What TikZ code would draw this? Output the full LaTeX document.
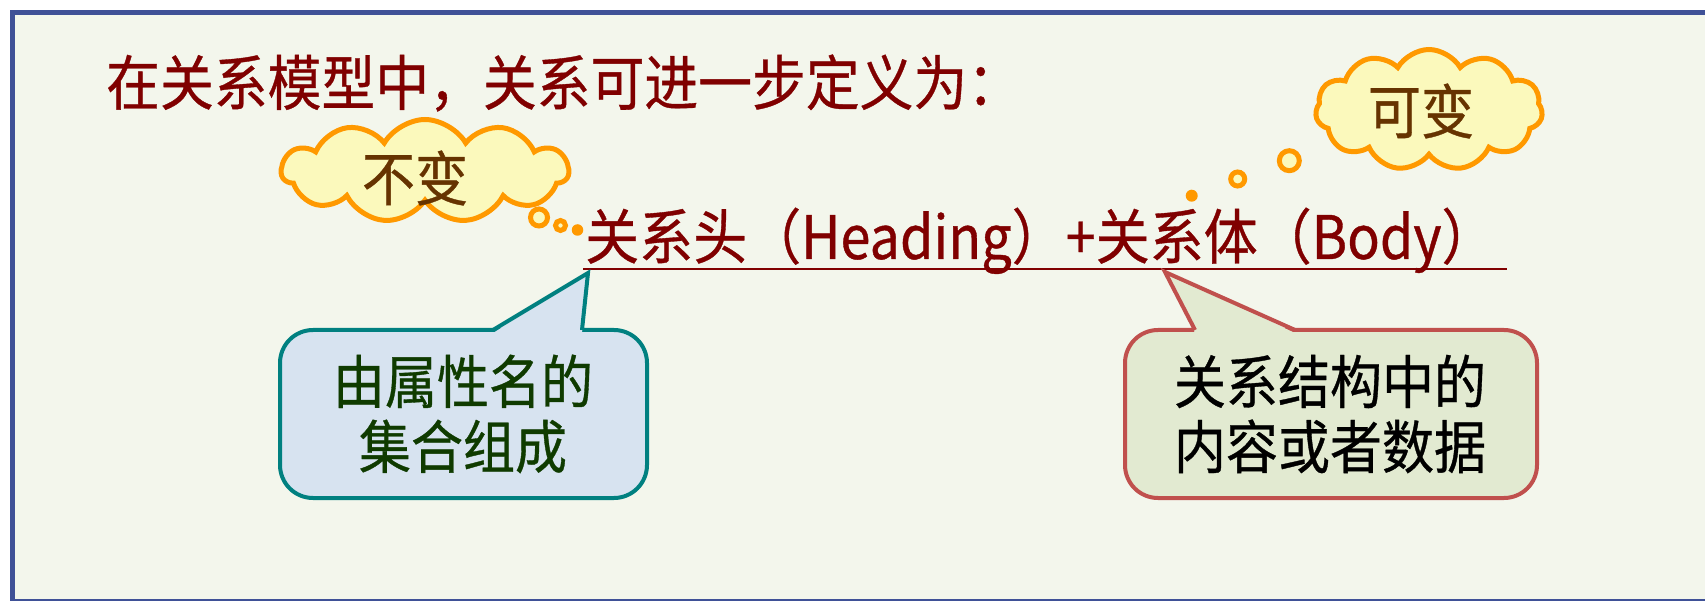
\documentclass[tikz,border=0pt]{standalone}
\usepackage{fontspec}
\newfontfamily\cjk[FakeStretch=0.9,FakeBold=0.6]{Noto Sans CJK SC}
\usetikzlibrary{shapes.symbols}
\definecolor{framecol}{HTML}{3F5197}
\definecolor{bgcol}{HTML}{F3F6EC}
\definecolor{titlered}{HTML}{800000}
\definecolor{cloudline}{HTML}{FF9900}
\definecolor{cloudfill}{HTML}{FBF9BC}
\definecolor{cloudtext}{HTML}{663300}
\definecolor{tealline}{HTML}{008080}
\definecolor{bluefill}{HTML}{D7E3F0}
\definecolor{greentext}{HTML}{0F3B00}
\definecolor{redline}{HTML}{C0504D}
\definecolor{greenfill}{HTML}{E2EAD1}
\begin{document}
\begin{tikzpicture}[x=1pt,y=-1pt,
  cloudsh/.style={cloud, cloud puffs=11, cloud puff arc=120, draw=cloudline, fill=cloudfill, line width=5pt, inner sep=0pt},
  bubble/.style={circle, draw=cloudline, fill=cloudfill, line width=5pt, inner sep=0pt},
  dot/.style={circle, fill=cloudline, inner sep=0pt},
  cloudlabel/.style={text=cloudtext, font=\cjk\fontsize{59}{66}\selectfont, inner sep=0pt},
  titletext/.style={text=titlered, font=\cjk\fontsize{59.8}{66}\selectfont, inner sep=0pt},
  headtext/.style={text=titlered, font=\cjk\fontsize{60}{66}\selectfont, inner sep=0pt},
  calltext/.style={font=\cjk\fontsize{57.8}{65}\selectfont, inner sep=0pt, align=center},
  box1/.style={draw=tealline, fill=bluefill, line width=4pt, rounded corners=33pt},
  box2/.style={draw=redline, fill=greenfill, line width=4pt, rounded corners=33pt}]
\useasboundingbox (0,0) rectangle (1705,601);
\fill[white] (0,0) rectangle (1705,601);
\clip (0,0) rectangle (1705,601);
\draw[framecol, fill=bgcol, line width=5pt] (12.5,12.5) rectangle (1730,601.5);

% title
\node[titletext, anchor=west] (title) at (106,83) {在关系模型中，关系可进一步定义为：};

% heading line
\node[headtext, anchor=base west] (head) at (585,259) {关系头（Heading）+关系体（Body）};
\coordinate (ulA) at (583,269);
\coordinate (ulB) at (1507,269);
\draw[titlered, line width=2.5pt] (ulA) -- (ulB);

% cloud 1
\node[cloudsh, aspect=2.7, minimum width=287pt, minimum height=103pt] (cloud1) at (425,171) {};
\node[cloudlabel] (t1) at (415,178) {不变};
\node[bubble, minimum size=17pt] (b1a) at (539,217.5) {};
\node[bubble, minimum size=10pt] (b1b) at (560.5,225.5) {};
\node[dot, minimum size=11.5pt] (b1c) at (577.5,230) {};

% cloud 2
\node[cloudsh, aspect=1.84, minimum width=227pt, minimum height=121pt] (cloud2) at (1429,110) {};
\node[cloudlabel] (t2) at (1421,111) {可变};
\node[bubble, minimum size=20pt] (b2a) at (1289.3,160.7) {};
\node[bubble, minimum size=14pt] (b2b) at (1237.7,179) {};
\node[dot, minimum size=12pt] (b2c) at (1191.7,195.7) {};

% callout 1
\coordinate (p1a) at (493,330);
\coordinate (p1tip) at (588,273);
\coordinate (p1b) at (582,330);
\draw[box1] (280,330) rectangle (647,498);
\fill[bluefill] (493,333) -- (588,273) -- (582,333) -- cycle;
\draw[tealline, line width=4pt, line join=miter] (p1a) -- (p1tip) -- (p1b);
\node[calltext, text=greentext] (c1) at (463,414) {由属性名的\\集合组成};

% callout 2
\coordinate (p2a) at (1195,330);
\coordinate (p2tip) at (1165,272);
\coordinate (p2b) at (1295,330);
\draw[box2] (1125,330) rectangle (1537,498);
\fill[greenfill] (1195,333) -- (1165,272) -- (1295,333) -- cycle;
\draw[redline, line width=4pt, line join=miter] (p2a) -- (p2tip) -- (p2b);
\node[calltext, text=black] (c2) at (1330,414) {关系结构中的\\内容或者数据};
\end{tikzpicture}
\end{document}
